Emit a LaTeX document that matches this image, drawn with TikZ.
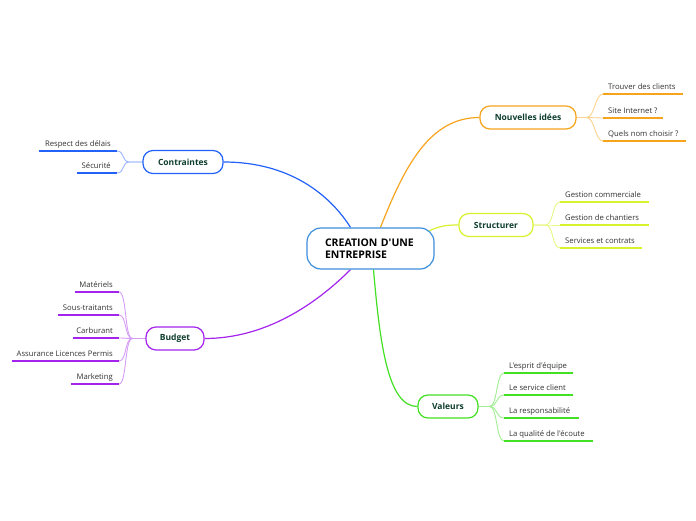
\documentclass[tikz,border=0pt]{standalone}
\usepackage{fontspec}
\setmainfont{Open Sans}[Ligatures=TeXOff]
\usetikzlibrary{calc,backgrounds}
\definecolor{cOr}{HTML}{F7A41D}
\definecolor{cYe}{HTML}{D8F22E}
\definecolor{cGr}{HTML}{44E024}
\definecolor{cBl}{HTML}{2262F8}
\definecolor{cPu}{HTML}{A424EE}
\definecolor{cCe}{HTML}{3D8FDB}
\definecolor{cTx}{HTML}{0E3D2E}
\definecolor{cLf}{HTML}{333333}
\newcommand{\lfL}[2]{\makebox[#1pt][l]{#2}}
\newcommand{\lfR}[2]{\makebox[#1pt][r]{#2}}
\tikzset{
  branch/.style={draw, line width=1.2pt, rounded corners=10pt, fill=white, text=cTx,
    font=\fontsize{8.5}{10}\selectfont\bfseries, inner sep=0pt, minimum height=23pt},
  leafR/.style={anchor=south west, inner xsep=5pt, inner ysep=2.5pt, text=cLf,
    font=\fontsize{7.7}{9}\selectfont, text height=6pt, text depth=1.5pt},
  leafL/.style={anchor=south east, inner xsep=6pt, inner ysep=2.5pt, text=cLf,
    font=\fontsize{7.7}{9}\selectfont, text height=6pt, text depth=1.5pt},
  ul/.style={line width=1.5pt},
  lc/.style={line width=0.9pt},
  mc/.style={line width=1.2pt},
}
\begin{document}
\begin{tikzpicture}[x=1pt,y=-1pt]
\useasboundingbox (0,0) rectangle (696,520);
% central
\node[draw=cCe, line width=1.2pt, rounded corners=14pt, fill=white, minimum width=127pt,
  minimum height=41pt, inner xsep=18pt, text width=91pt, align=left,
  font=\fontsize{10.5}{12.5}\selectfont\bfseries] (c) at (370.5,248.5) {CREATION D'UNE\\ENTREPRISE};
% branches
\node[branch, draw=cOr, minimum width=96pt] (ni) at (528,117.5) {Nouvelles idées};
\node[branch, draw=cYe, minimum width=74pt] (st) at (496,225) {Structurer};
\node[branch, draw=cGr, minimum width=60pt] (va) at (448,406.5) {Valeurs};
\node[branch, draw=cBl, minimum width=80pt] (co) at (183,162) {Contraintes};
\node[branch, draw=cPu, minimum width=58pt] (bu) at (175,338.5) {Budget};
% leaves: Nouvelles idees
\node[leafR] (n1) at (603,94) {\lfL{70}{Trouver des clients}};
\node[leafR] (n2) at (603,118) {\lfL{50}{Site Internet ?}};
\node[leafR] (n3) at (603,141) {\lfL{73}{Quels nom choisir ?}};
% Structurer
\node[leafR] (s1) at (560,202) {\lfL{79}{Gestion commerciale}};
\node[leafR] (s2) at (560,225) {\lfL{79}{Gestion de chantiers}};
\node[leafR] (s3) at (560,248) {\lfL{72}{Services et contrats}};
% Valeurs
\node[leafR] (v1) at (504,373) {\lfL{59}{L'esprit d'équipe}};
\node[leafR] (v2) at (504,395) {\lfL{59}{Le service client}};
\node[leafR] (v3) at (504,418) {\lfL{65}{La responsabilité}};
\node[leafR] (v4) at (504,441) {\lfL{79}{La qualité de l'écoute}};
% Contraintes
\node[leafL] (k1) at (117,151) {\lfR{66}{Respect des délais}};
\node[leafL] (k2) at (117,173) {\lfR{28}{Sécurité}};
% Budget
\node[leafL] (b1) at (119,292) {\lfR{32}{Matériels}};
\node[leafL] (b2) at (119,315) {\lfR{49}{Sous-traitants}};
\node[leafL] (b3) at (119,338) {\lfR{34}{Carburant}};
\node[leafL] (b4) at (119,361) {\lfR{95}{Assurance Licences Permis}};
\node[leafL] (b5) at (119,384) {\lfR{36}{Marketing}};
\begin{scope}[on background layer]
\fill[white] (0,0) rectangle (696,520);
% main connectors
\draw[mc, cBl] (co.east) .. controls (290,162) and (330,195) .. ([xshift=-20pt]c.north);
\draw[mc, cOr] ([xshift=10pt]c.north) .. controls (405,165) and (430,117.5) .. (ni.west);
\draw[mc, cYe] ($(c.north east)+(-7,4)$) .. controls (440,226) and (445,225) .. (st.west);
\draw[mc, cGr] ([xshift=3pt]c.south) .. controls (380,345) and (388,406.5) .. (va.west);
\draw[mc, cPu] ([xshift=-20pt]c.south) .. controls (315,305) and (265,338.5) .. (bu.east);
% leaf connectors
\foreach \l in {n1,n2,n3}
  \draw[lc, cOr!50] (ni.east) -- ++(10,0) .. controls +(8,0) and +(-8,0) .. (\l.south west);
\foreach \l in {s1,s2,s3}
  \draw[lc, cYe!60] (st.east) -- ++(12,0) .. controls +(8,0) and +(-8,0) .. (\l.south west);
\foreach \l in {v1,v2,v3,v4}
  \draw[lc, cGr!50] (va.east) -- ++(11,0) .. controls +(8,0) and +(-8,0) .. (\l.south west);
\foreach \l in {k1,k2}
  \draw[lc, cBl!45] (co.west) -- ++(-13,0) .. controls +(-8,0) and +(8,0) .. (\l.south east);
\foreach \l in {b1,b2,b3,b4,b5}
  \draw[lc, cPu!45] (bu.west) -- ++(-13,0) .. controls +(-8,0) and +(8,0) .. (\l.south east);
\end{scope}
% underlines
\foreach \l in {n1,n2,n3} \draw[ul, cOr] (\l.south west) -- (\l.south east);
\foreach \l in {s1,s2,s3} \draw[ul, cYe] (\l.south west) -- (\l.south east);
\foreach \l in {v1,v2,v3,v4} \draw[ul, cGr] (\l.south west) -- (\l.south east);
\foreach \l in {k1,k2} \draw[ul, cBl] (\l.south west) -- (\l.south east);
\foreach \l in {b1,b2,b3,b4,b5} \draw[ul, cPu] (\l.south west) -- (\l.south east);
\end{tikzpicture}
\end{document}
